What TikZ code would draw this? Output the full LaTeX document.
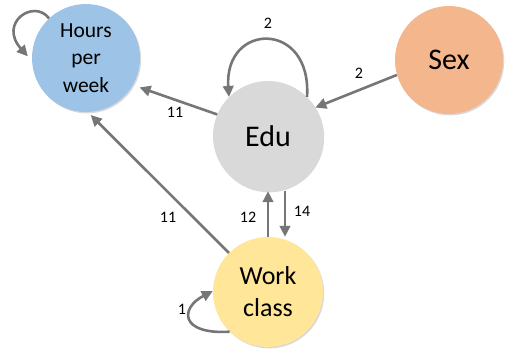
\documentclass[tikz,border=0pt]{standalone}
\usepackage{fontspec}
\setmainfont{Carlito}
\usetikzlibrary{arrows.meta,calc,shadows}
\definecolor{hourscol}{HTML}{9DC3E6}
\definecolor{educol}{HTML}{D9D9D9}
\definecolor{sexcol}{HTML}{F4B68C}
\definecolor{workcol}{HTML}{FFE699}
\definecolor{linkgray}{RGB}{118,118,118}
\begin{document}
\begin{tikzpicture}[x=1pt,y=1pt,
  var/.style={circle, inner sep=0pt, minimum size=110pt, align=center,
    drop shadow={shadow xshift=1.2pt, shadow yshift=-1.4pt, opacity=0.3, fill=black!50}},
  link/.style={draw=linkgray, line width=2.6pt, -{Triangle[length=11pt,width=10.5pt]}},
  lbl/.style={font=\fontsize{16}{19}\selectfont, inner sep=0pt}]
\useasboundingbox (0,0) rectangle (505,-348);

% variables
\node[var, fill=hourscol, minimum size=108pt, font=\fontsize{21.5}{27.5}\selectfont] (hours) at (86,-58) {Hours\\per\\week};
\node[var, fill=educol, font=\fontsize{30}{36}\selectfont] (edu) at (268,-136) {Edu};
\node[var, fill=sexcol, minimum size=108pt, font=\fontsize{30}{36}\selectfont] (sex) at (449,-60) {Sex};
\node[var, fill=workcol, font=\fontsize{26}{32}\selectfont] (work) at (268,-292) {Work\\class};

% links between variables
\draw[link, shorten >=7pt] (edu.157) -- (hours.-30);
\draw[link] (sex.196) -- (edu.31);
\draw[link, shorten >=4pt] (work.135) -- (hours.-88);
\draw[link] (work.north) -- (edu.south);
\draw[link] ([xshift=17pt]edu.south) -- ([xshift=17pt]work.north);

% self loops
\draw[link] (edu.45) .. controls ($(edu.45)+(5,77)$) and ($(edu.135)+(-5,75)$) .. (edu.135);
\draw[link, shorten >=6pt] (hours.133) .. controls ($(hours.133)+(-15,20)$) and ($(hours.183)+(-34,38)$) .. (hours.183);
\draw[link] (work.226) .. controls ($(work.226)+(-50,-3)$) and ($(work.179)+(-33,-17)$) .. (work.179);

% weights
\node[lbl] (w1) at (268,-23) {2};
\node[lbl] (w2) at (175,-112) {11};
\node[lbl] (w3) at (359,-73) {2};
\node[lbl] (w4) at (168,-217) {11};
\node[lbl] (w5) at (248,-217) {12};
\node[lbl] (w6) at (302,-211) {14};
\node[lbl] (w7) at (182,-309) {1};
\end{tikzpicture}
\end{document}
